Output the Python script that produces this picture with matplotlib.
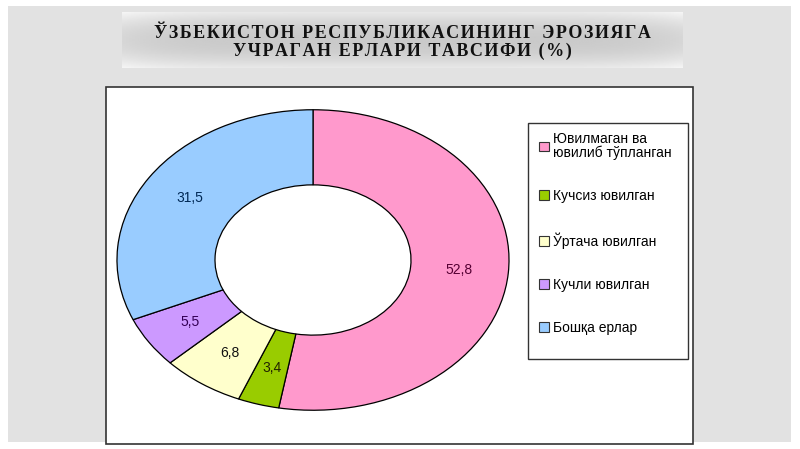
import numpy as np
import matplotlib.pyplot as plt
from matplotlib.patches import Rectangle

title_lines = ['ЎЗБЕКИСТОН РЕСПУБЛИКАСИНИНГ ЭРОЗИЯГА', 'УЧРАГАН ЕРЛАРИ ТАВСИФИ (%)']
categories = ['Ювилмаган ва\nювилиб тўпланган', 'Кучсиз ювилган', 'Ўртача ювилган',
              'Кучли ювилган', 'Бошқа ерлар']
values = [52.8, 3.4, 6.8, 5.5, 31.5]
colors = ['#ff99cc', '#99cc00', '#ffffcc', '#cc99ff', '#99ccff']
text_colors = ['#550033', '#222200', '#111111', '#330055', '#002855']

W, H = 800, 449
fig = plt.figure(figsize=(W / 100, H / 100), dpi=100)
fig.patch.set_facecolor('white')


def fbox(x0, y0, x1, y1):
    # pixel box (top-left origin) -> figure fraction [l, b, w, h]
    return [x0 / W, 1 - y1 / H, (x1 - x0) / W, (y1 - y0) / H]


def rect(x0, y0, x1, y1, **kw):
    l, b, w, h = fbox(x0, y0, x1, y1)
    fig.patches.append(Rectangle((l, b), w, h, transform=fig.transFigure, **kw))


# slide background, chart frame, legend frame
rect(8, 6, 791, 442, facecolor='#e2e2e2', edgecolor='none', zorder=-3)
rect(106, 87, 693, 444, facecolor='white', edgecolor='#333333', linewidth=1.2, zorder=-2)
rect(528, 123, 688, 359, facecolor='white', edgecolor='#333333', linewidth=1.0, zorder=-1)

# title banner with soft gradient
ax_t = fig.add_axes(fbox(122, 12, 683, 68))
gy = np.linspace(-1, 1, 60)
gx = np.linspace(-1, 1, 200)
grad = 0.79 + 0.12 * (np.abs(gy)[:, None] ** 2) + 0.05 * (np.abs(gx)[None, :] ** 6)
ax_t.imshow(grad, cmap='gray', vmin=0, vmax=1, aspect='auto', extent=[0, 1, 0, 1])
ax_t.set_axis_off()
spaced = '\n'.join('\u200a'.join(line) for line in title_lines)
ax_t.text(0.5, 0.45, spaced, ha='center', va='center', fontsize=13,
          fontweight='bold', family='Liberation Serif', color='#111111',
          linespacing=1.05)

# donut (elliptical, as in the original)
ax = fig.add_axes(fbox(116, 109, 510, 411))
wedges, _ = ax.pie(values, colors=colors, startangle=90, counterclock=False,
                   radius=1.0, wedgeprops=dict(width=0.5, edgecolor='black',
                                               linewidth=0.9))
ax.set_aspect('auto')
ax.set_xlim(-1.005, 1.005)
ax.set_ylim(-1.005, 1.005)

start = 90.0
for v, tc in zip(values, text_colors):
    mid = np.deg2rad(start - v / 100 * 360 / 2)
    start -= v / 100 * 360
    ax.text(0.75 * np.cos(mid), 0.75 * np.sin(mid), f'{v:.1f}'.replace('.', ','),
            ha='center', va='center', fontsize=10, family='Liberation Sans',
            color=tc)

# legend entries (frame drawn above)
leg = fig.legend(wedges, categories, loc='upper left',
                 bbox_to_anchor=(539 / W, 1 - 132 / H),
                 prop={'family': 'Liberation Sans', 'size': 10},
                 frameon=False, handlelength=0.7, handleheight=0.7,
                 handletextpad=0.3, labelspacing=2.1, borderpad=0,
                 borderaxespad=0)
for t in leg.get_texts():
    t.set_linespacing(0.95)
for hnd in leg.legend_handles:
    hnd.set_edgecolor('#333333')
    hnd.set_linewidth(0.8)

fig.savefig('out.png', dpi=100)
